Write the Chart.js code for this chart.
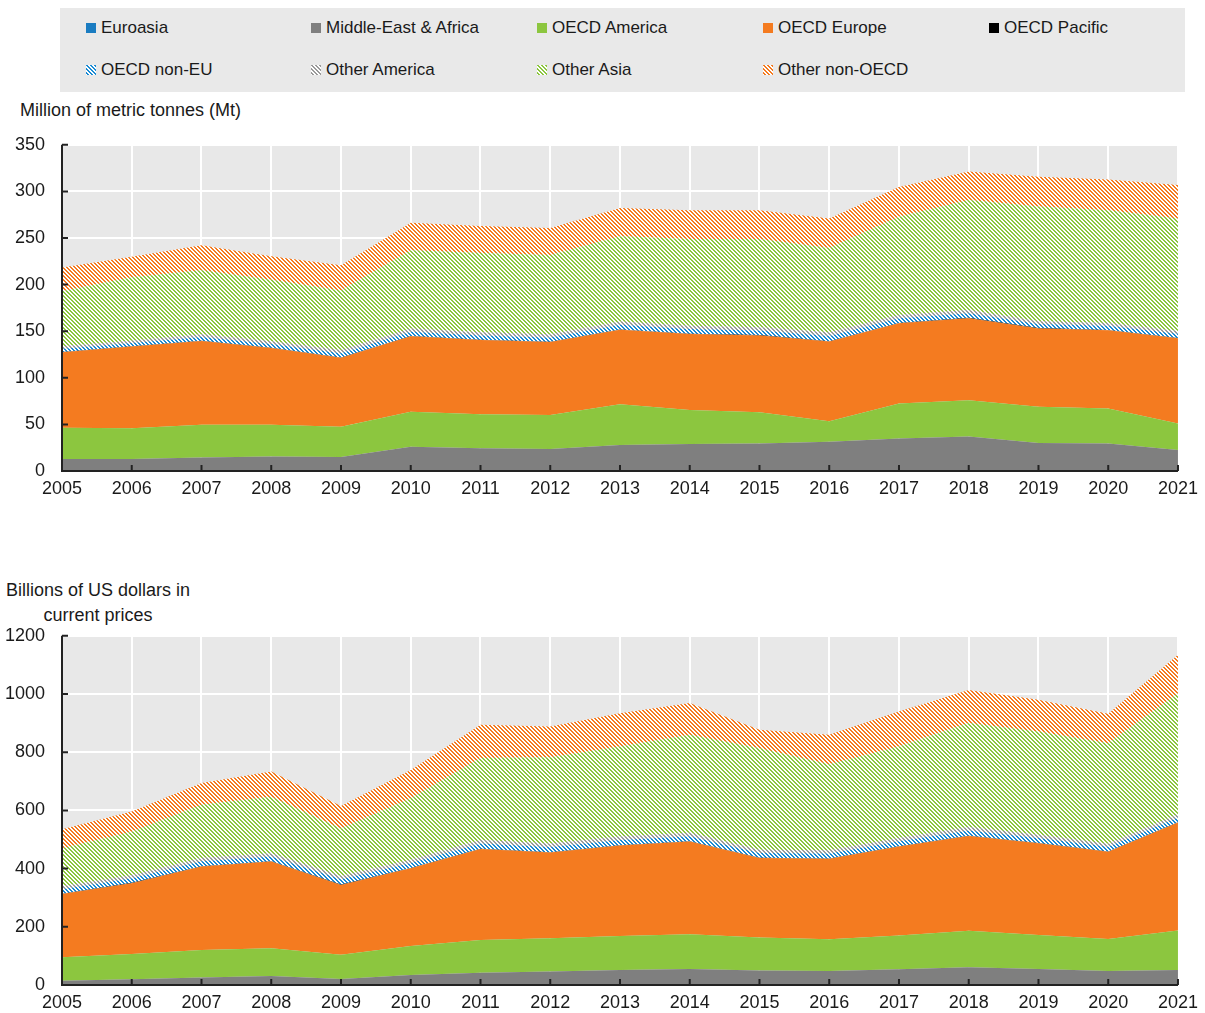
<!DOCTYPE html>
<html>
<head>
<meta charset="utf-8">
<script src="https://cdn.jsdelivr.net/npm/chart.js@4.4.0/dist/chart.umd.min.js"></script>
<style>
  body { margin: 0; background: #fff; font-family: "Liberation Sans", Arial, sans-serif; color: #1a1a1a; }
  #legend { position: absolute; left: 60px; top: 8px; width: 1125px; height: 84px; background: #e9e9e9; }
  .item { position: absolute; font-size: 17px; line-height: 20px; white-space: nowrap; }
  .item i { position: absolute; left: 0; top: 5px; width: 10px; height: 10px; }
  .item span { position: absolute; left: 15px; top: 0; }
  .ytitle { position: absolute; font-size: 18px; line-height: 25px; white-space: nowrap; }
  .box { position: absolute; left: 0; width: 1205px; }
</style>
</head>
<body>
<div id="legend"></div>
<div class="ytitle" style="left:20px;top:98px">Million of metric tonnes (Mt)</div>
<div class="box" style="top:117px;height:384px"><canvas id="volume"></canvas></div>
<div class="ytitle" style="left:0;top:578px;width:196px;text-align:center">Billions of US dollars in<br>current prices</div>
<div class="box" style="top:608px;height:407px"><canvas id="value"></canvas></div>

<script>
// years on the x axis
const years = ['2005','2006','2007','2008','2009','2010','2011','2012','2013','2014','2015','2016','2017','2018','2019','2020','2021'];

const seriesNames = ['Euroasia','Middle-East & Africa','OECD America','OECD Europe','OECD Pacific',
                     'OECD non-EU','Other America','Other Asia','Other non-OECD'];

// top panel: million tonnes
const euroasiaMt  = [0.5,0.5,0.5,0.5,0.5,0.5,0.5,0.5,0.5,0.5,0.5,0.5,0.5,0.5,0.5,0.5,0.5];
const meaMt       = [12.5,12.5,14,15,14.5,25.5,24,23,27.5,28.5,29,31,34.5,36.5,29.5,29,22];
const americaMt   = [33.5,33,35,34,32.5,37.5,36.5,36.5,43.5,36.5,33.5,22,37.5,39,39,37.5,28.5];
const europeMt    = [81,87.5,90,82.5,74,81,79.5,78.5,80,81.5,82.5,85.5,86,88,84,84,91.5];
const pacificMt   = [0.3,0.3,0.3,0.3,0.3,0.3,0.3,0.3,0.3,0.3,0.3,0.3,0.3,0.3,0.3,0.3,0.3];
const nonEuMt     = [3.5,3.5,4,4,4.5,4.5,4.5,4.5,5,5,5,5.5,5,5,4.5,4.5,4.5];
const otherAmMt   = [2.5,2.5,3,3,3.5,3.5,3.5,3.5,3.5,3.5,3.5,4,3.5,3.5,3,3,3];
const otherAsiaMt = [59,68,68.5,66,64,84,85,85,91.5,93,94.5,90.5,105.5,118,123,121,120.5];
const nonOecdMt   = [25.5,22,27,25,27,29.5,29,29,30.5,31,31,31.5,32,30.5,32,33,36];

// bottom panel: billions of USD
const euroasiaUsd  = [1.5,1.5,1.5,1.5,1.5,1.5,1.5,1.5,1.5,1.5,1.5,1.5,1.5,1.5,1.5,1.5,1.5];
const meaUsd       = [13.5,18,24.5,29.5,19.5,33,41,44.5,50,53.5,48,47,52.5,59.5,53.5,46.5,50];
const americaUsd   = [80,87,94,95,83,99.5,112.5,114.5,117,119,113.5,109,116,125,117,110,135.5];
const europeUsd    = [218,243.5,287,298,240,267,312,294.5,310.5,319,273,276.5,306,326,315,300,371];
const pacificUsd   = [1,1,1,1,1,1,1,1,1,1,1,1,1,1,1,1,1];
const nonEuUsd     = [15,16,17,17,18,17,18,18,18,17,17,17,17,18,17,16,17];
const otherAmUsd   = [10,10,11,11,12,11,12,12,12,12,11,11,11,12,11,10,11];
const otherAsiaUsd = [131,150,183,194,163,212,282,297,309.5,337,348.5,296,315,357,355,346,416];
const nonOecdUsd   = [65,69,75,87,77,97,114.5,105,114.5,109,64,101,120,114,109,101,132];

const colors = ['#1a7cc1','#7f7f7f','#8cc63f','#f47b20','#000000','#1a8bd4','#9a9a9a','#8cc63f','#f47b20'];
const hatched = [false,false,false,false,false,true,true,true,true];

Chart.defaults.font.family = '"Liberation Sans", Arial, sans-serif';
Chart.defaults.font.size = 18;
Chart.defaults.color = '#1a1a1a';

function hatchTile(color) {
  const c = document.createElement('canvas');
  c.width = c.height = 4;
  const g = c.getContext('2d');
  g.fillStyle = '#fff';
  g.fillRect(0, 0, 4, 4);
  g.fillStyle = color;
  for (let y = 0; y < 4; y++)
    for (let x = 0; x < 4; x++)
      if (((x - y) % 4 + 4) % 4 < 2) g.fillRect(x, y, 1, 1);
  return c;
}

// legend
const legend = document.getElementById('legend');
const colX = [26, 251, 477, 703, 929];
seriesNames.forEach((name, i) => {
  const row = i < 5 ? 0 : 1;
  const col = i < 5 ? i : i - 5;
  const d = document.createElement('div');
  d.className = 'item';
  d.style.left = colX[col] + 'px';
  d.style.top = (row === 0 ? 10 : 52) + 'px';
  const mark = document.createElement('i');
  if (hatched[i]) mark.style.backgroundImage = 'url(' + hatchTile(colors[i]).toDataURL() + ')';
  else mark.style.background = colors[i];
  const txt = document.createElement('span');
  txt.textContent = name;
  d.appendChild(mark);
  d.appendChild(txt);
  legend.appendChild(d);
});

const plotFrame = {
  id: 'plotFrame',
  beforeDraw(chart) {
    const { ctx, chartArea: a } = chart;
    ctx.save();
    ctx.fillStyle = '#e8e8e8';
    ctx.fillRect(a.left, a.top, a.right - a.left, a.bottom - a.top);
    ctx.restore();
  },
  afterDatasetsDraw(chart) {
    const { ctx, chartArea: a, scales } = chart;
    ctx.save();
    ctx.strokeStyle = '#222';
    ctx.lineWidth = 2;
    ctx.beginPath();
    ctx.moveTo(a.left, a.top);
    ctx.lineTo(a.left, a.bottom);
    ctx.lineTo(a.right, a.bottom);
    scales.y.ticks.forEach((t, i) => {
      const y = scales.y.getPixelForTick(i);
      ctx.moveTo(a.left, y);
      ctx.lineTo(a.left + 6, y);
    });
    scales.x.ticks.forEach((t, i) => {
      const x = scales.x.getPixelForTick(i);
      ctx.moveTo(x, a.bottom);
      ctx.lineTo(x, a.bottom - 6);
    });
    ctx.stroke();
    ctx.restore();
  }
};

function makeChart(id, series, yMax, yStep) {
  const ctx = document.getElementById(id).getContext('2d');
  const datasets = series.map((values, i) => ({
    label: seriesNames[i],
    data: values,
    backgroundColor: hatched[i] ? ctx.createPattern(hatchTile(colors[i]), 'repeat') : colors[i],
    borderWidth: 0,
    pointRadius: 0,
    tension: 0,
    fill: i === 0 ? 'origin' : '-1'
  }));
  return new Chart(ctx, {
    type: 'line',
    data: { labels: years, datasets: datasets },
    options: {
      responsive: true,
      maintainAspectRatio: false,
      animation: false,
      layout: { padding: { top: 0, right: 25, left: 0, bottom: 0 } },
      plugins: { legend: { display: false }, tooltip: { enabled: false } },
      scales: {
        x: {
          grid: { color: '#fff', lineWidth: 2, drawTicks: false },
          border: { display: false },
          ticks: { autoSkip: false, maxRotation: 0, padding: 7 },
          afterFit(scale) { scale.height = 30; }
        },
        y: {
          stacked: true,
          min: 0,
          max: yMax,
          grid: { color: '#fff', lineWidth: 2, drawTicks: false },
          border: { display: false },
          ticks: { stepSize: yStep, padding: 17, callback: v => String(v) },
          afterFit(scale) { scale.width = 62; }
        }
      }
    },
    plugins: [plotFrame]
  });
}

makeChart('volume',
  [euroasiaMt, meaMt, americaMt, europeMt, pacificMt, nonEuMt, otherAmMt, otherAsiaMt, nonOecdMt],
  350, 50);
makeChart('value',
  [euroasiaUsd, meaUsd, americaUsd, europeUsd, pacificUsd, nonEuUsd, otherAmUsd, otherAsiaUsd, nonOecdUsd],
  1200, 200);
</script>
</body>
</html>
